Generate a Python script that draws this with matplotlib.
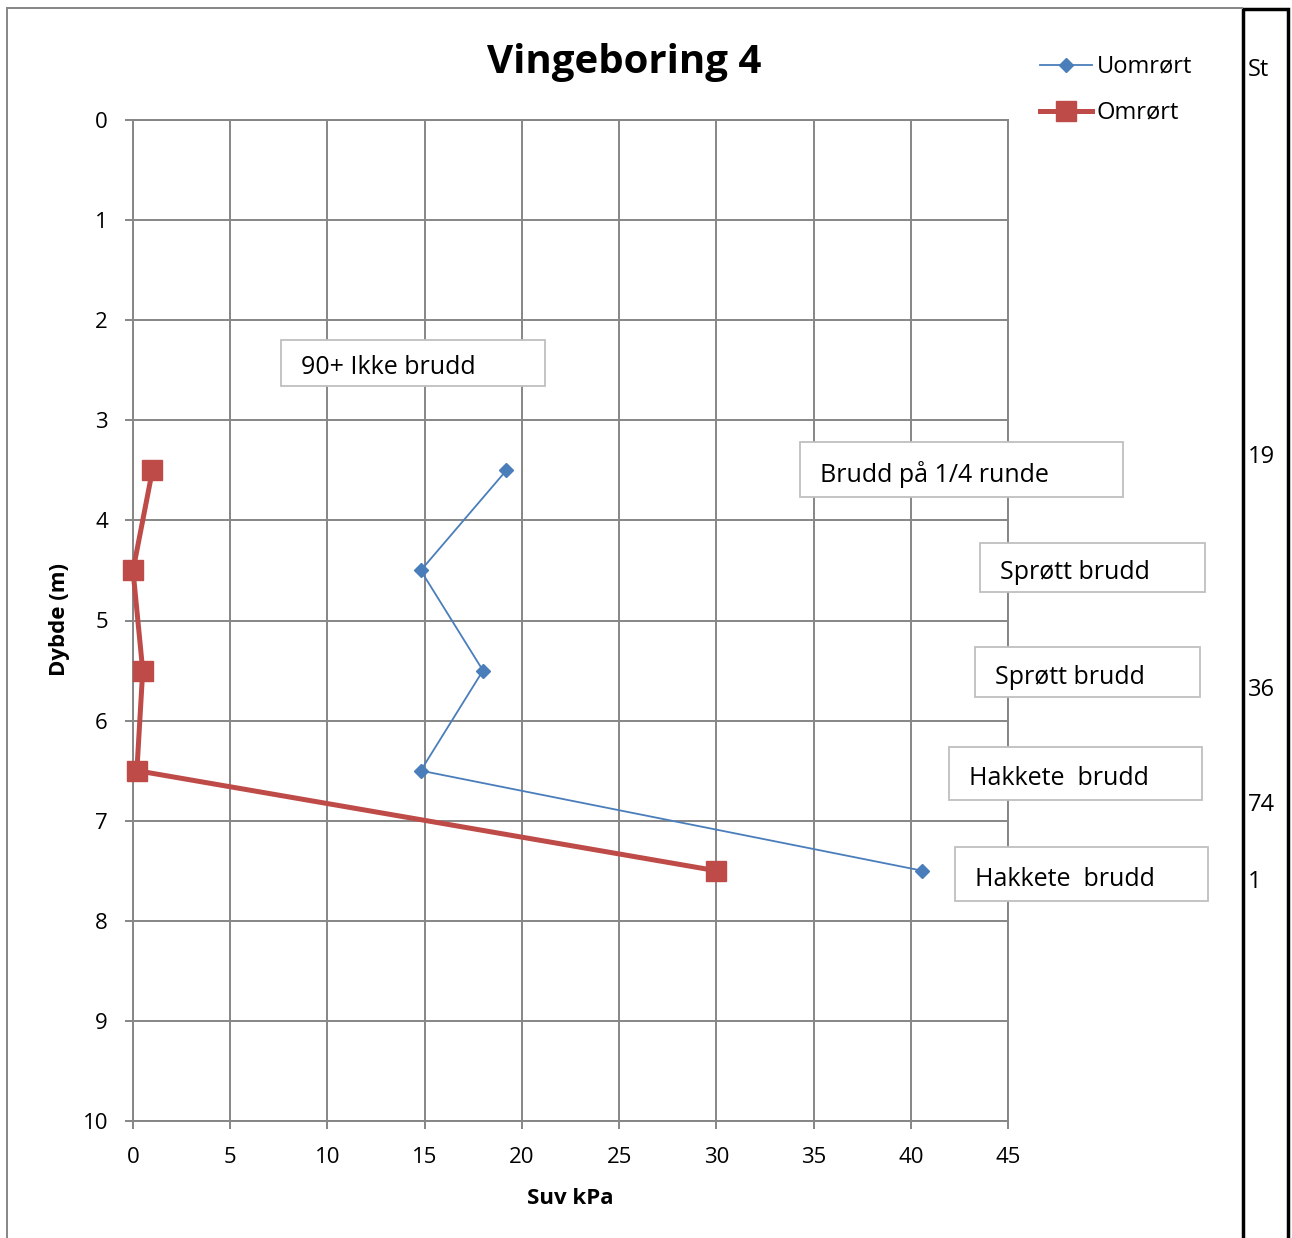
import matplotlib.pyplot as plt
from matplotlib.patches import Rectangle
from matplotlib.lines import Line2D

# ========= data =========
depth = [3.5, 4.5, 5.5, 6.5, 7.5]
suv_uomrort = [19.2, 14.8, 18.0, 14.8, 40.6]
suv_omrort = [1.0, 0.0, 0.5, 0.2, 30.0]

notes = ["90+ Ikke brudd", "Brudd på 1/4 runde", "Sprøtt brudd",
         "Sprøtt brudd", "Hakkete  brudd", "Hakkete  brudd"]
st_labels = ["19", "36", "74", "1"]

plt.rcParams.update({
    "font.family": ["Open Sans", "DejaVu Sans"],
    "font.size": 16,
})

W, H = 1292, 1238
fig = plt.figure(figsize=(W / 100, H / 100), dpi=100)


def fx(px):
    return px / W


def fy(py):
    return 1 - py / H


ax = fig.add_axes([fx(133), fy(1121), fx(1008) - fx(133), fy(120) - fy(1121)])

grid_c = "#868686"
blue = "#4A7EBB"
red = "#BE4B48"

ax.plot(suv_uomrort, depth, color=blue, lw=1.3, marker="D", ms=7,
        label="Uomrørt", zorder=4, clip_on=False)
ax.plot(suv_omrort, depth, color=red, lw=3.6, marker="s", ms=14,
        label="Omrørt", zorder=5, clip_on=False)

ax.set_xlim(0, 45)
ax.set_ylim(10, 0)
ax.set_xticks(range(0, 46, 5))
ax.set_yticks(range(0, 11))
ax.grid(True, color=grid_c, lw=1.4)
ax.set_axisbelow(True)
for s in ax.spines.values():
    s.set_color(grid_c)
    s.set_linewidth(1.4)
ax.tick_params(axis="both", colors=grid_c, labelcolor="black", labelsize=16,
               length=6, width=1.4, direction="out")
ax.tick_params(axis="y", pad=12)
ax.tick_params(axis="x", pad=13)

fig.text(fx(60), fy(620), "Dybde (m)", rotation=90, ha="center", va="center",
         fontsize=16, fontweight="bold")
fig.text(fx(570), fy(1198), "Suv kPa", ha="center", va="center",
         fontsize=16, fontweight="bold")
fig.text(fx(624), fy(62), "Vingeboring 4", ha="center", va="center",
         fontsize=29, fontweight="bold")

# legend, drawn by hand
legend_rows = [
    ("Uomrørt", blue, 1.3, "D", 7, 65),
    ("Omrørt", red, 3.6, "s", 14, 111),
]
for lab, c, lw, mk, ms, py in legend_rows:
    fig.add_artist(Line2D([fx(1040), fx(1066), fx(1092)], [fy(py)] * 3,
                          color=c, lw=lw, marker=mk, ms=ms, markevery=[1],
                          transform=fig.transFigure))
    fig.text(fx(1097), fy(py + 1), lab, ha="left", va="center", fontsize=17)

# annotation boxes (left, top, right, bottom in pixels)
boxes = [
    (281, 340, 545, 386),
    (800, 442, 1123, 497),
    (980, 543, 1205, 592),
    (975, 647, 1200, 697),
    (949, 747, 1202, 800),
    (955, 847, 1208, 901),
]
for text, (l, t, r, b) in zip(notes, boxes):
    fig.add_artist(Rectangle((fx(l), fy(b)), fx(r) - fx(l), fy(t) - fy(b),
                             transform=fig.transFigure, facecolor="white",
                             edgecolor="#BFBFBF", lw=1.3, zorder=6))
    fig.text(fx(l + 20), fy((t + b) / 2 + 5), text, ha="left", va="center",
             fontsize=18, zorder=7)

# outer frame
fig.add_artist(Line2D([fx(7), fx(7)], [fy(8), 0], color=grid_c, lw=1.4,
                      transform=fig.transFigure))
fig.add_artist(Line2D([fx(7), fx(1242)], [fy(8), fy(8)], color=grid_c, lw=1.4,
                      transform=fig.transFigure))

# St column
fig.add_artist(Rectangle((fx(1243), fy(1250)), fx(1288) - fx(1243),
                         fy(9) - fy(1250), transform=fig.transFigure,
                         facecolor="none", edgecolor="black", lw=2.5,
                         clip_on=False))
fig.text(fx(1248), fy(70), "St", ha="left", va="center", fontsize=17)
for lab, py in zip(st_labels, [457, 690, 805, 882]):
    fig.text(fx(1248), fy(py), lab, ha="left", va="center", fontsize=17)

fig.savefig("out.png", dpi=100)
